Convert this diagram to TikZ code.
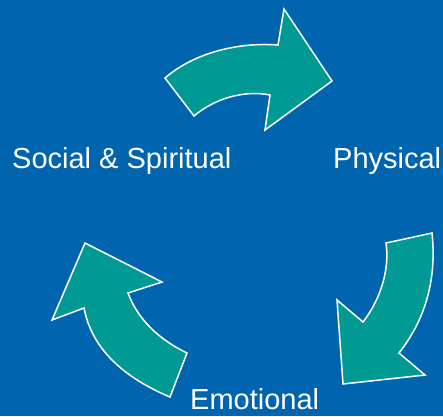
\documentclass[tikz,border=0pt]{standalone}
\usepackage{fontspec}
\setmainfont{Liberation Sans}
\usepackage{xcolor}

\definecolor{bgblue}{RGB}{0,100,175}
\definecolor{arrowteal}{RGB}{0,153,148}

\begin{document}
\begin{tikzpicture}
  [x=1pt,y=-1pt,every node/.style={text=white,inner sep=0pt,font=\fontsize{29}{34}\selectfont},
   cyclearrow/.style={fill=arrowteal,draw=white,line width=1.5pt,line join=miter}]

  \fill[bgblue] (0,0) rectangle (443,416);

  % top arrow
  \draw[cyclearrow] (165,78) .. controls (195,52) and (240,42) .. (278,45)
    -- (284,9) -- (332,81) -- (265,130) -- (270,95)
    .. controls (245,90) and (215,98) .. (194,116) -- cycle;

  % right arrow
  \draw[cyclearrow] (432,233) .. controls (437,280) and (425,320) .. (399,353)
    -- (425,375) -- (343,384) -- (337,300) -- (363,322)
    .. controls (380,300) and (390,270) .. (386,243) -- cycle;

  % left arrow
  \draw[cyclearrow] (85,243) -- (162,282) -- (128,293)
    .. controls (138,320) and (160,340) .. (187,353)
    -- (170,397) .. controls (125,378) and (92,350) .. (84,308)
    -- (52,320) -- cycle;

  \node[anchor=base west] (social) at (12,168) {Social \& Spiritual};
  \node[anchor=base west] (physical) at (333,168) {Physical};
  \node[anchor=base west] (emotional) at (190,409) {Emotional};
\end{tikzpicture}
\end{document}
